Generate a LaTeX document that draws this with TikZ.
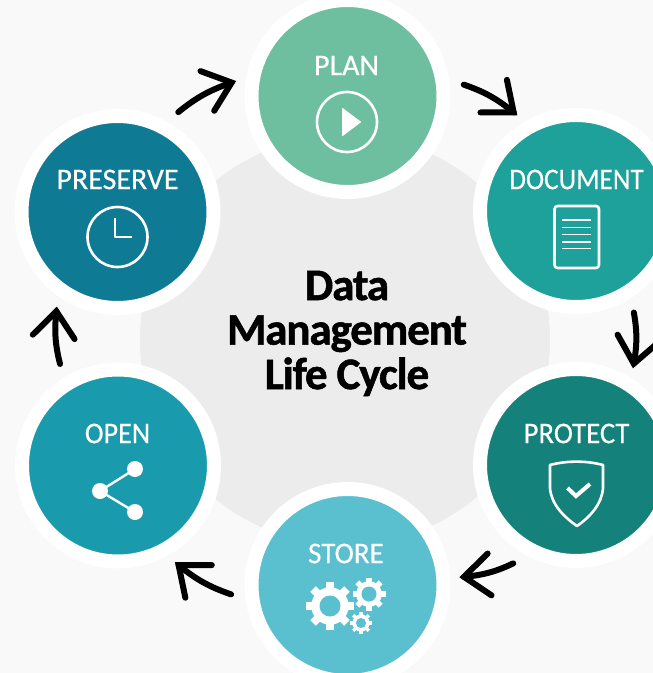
\documentclass[tikz,border=0pt]{standalone}
\usepackage{fontspec}
\usepackage{xcolor}
\usetikzlibrary{arrows.meta,calc}
\setmainfont{Carlito}
\newfontfamily\stagefont[FakeBold=0.35]{Carlito}
\newfontfamily\titlefont[FakeBold=1.2,LetterSpace=-2.5]{Carlito Bold}
\definecolor{pagegrey}{HTML}{F9F9F9}
\definecolor{coregrey}{HTML}{ECECEC}
\definecolor{plangreen}{HTML}{6DBFA0}
\definecolor{docteal}{HTML}{1DA19A}
\definecolor{protectteal}{HTML}{14827A}
\definecolor{storeblue}{HTML}{5ABFCE}
\definecolor{openblue}{HTML}{1A9BAD}
\definecolor{preserveblue}{HTML}{0E7A94}
\pgfdeclarearrow{
    name=OpenBarb,
    setup code={
        \pgfarrowssettipend{0pt}
        \pgfarrowssetbackend{-26pt}
        \pgfarrowssetlineend{-4.3pt}
        \pgfarrowssetvisualbackend{-4.3pt}
    },
    drawing code={
        \pgfsetmiterjoin
        \pgfsetroundcap
        \pgfpathmoveto{\pgfqpoint{-30pt}{21pt}}
        \pgfpathlineto{\pgfqpoint{-4.3pt}{0pt}}
        \pgfpathlineto{\pgfqpoint{-30pt}{-21pt}}
        \pgfusepathqstroke
    }
}
\tikzset{
    stagedisc/.style={circle, draw=white, line width=14pt, minimum size=192pt, inner sep=0pt, outer sep=19pt, fill=#1},
    stagelabel/.style={text=white, inner sep=0pt, xscale=#1, font=\stagefont\fontsize{30}{32}\selectfont},
    stagelabel/.default=1,
    flowarrow/.style={line width=6pt, line cap=round, shorten <=2pt, shorten >=-2.5pt, -{OpenBarb}},
    iconline/.style={draw=white, line width=2.6pt, line join=round},
}
\newcommand{\gearicon}[5]{
    \foreach \tooth in {0,45,...,315} {
        \draw[white, line width=#5] ($(#1,#2)+(\tooth:#3*0.6)$) -- ($(#1,#2)+(\tooth:#3)$);
    }
    \fill[white] (#1,#2) circle[radius=#3*0.78];
    \fill[storeblue] (#1,#2) circle[radius=#4];
}
\begin{document}
\begin{tikzpicture}[x=1pt, y=-1pt]
    \useasboundingbox (0,0) rectangle (653,673);
    \fill[pagegrey] (0,0) rectangle (653,673);
    \node[circle, fill=coregrey, minimum size=410pt, inner sep=0pt] (core) at (345,340) {};

    \node[stagedisc=plangreen] (plan) at (347.5,96) {};
    \node[stagedisc=docteal] (document) at (576,211) {};
    \node[stagedisc=protectteal] (protect) at (576,465) {};
    \node[stagedisc=storeblue] (store) at (347.5,585) {};
    \node[stagedisc=openblue] (open) at (118,465.5) {};
    \node[stagedisc=preserveblue] (preserve) at (117.5,212) {};

    \node[stagelabel] (planlabel) at (346.5,65.5) {PLAN};
    \node[stagelabel=0.91] (documentlabel) at (576.5,179.5) {DOCUMENT};
    \node[stagelabel=0.96] (protectlabel) at (576.5,433.5) {PROTECT};
    \node[stagelabel=0.97] (storelabel) at (346,553.5) {STORE};
    \node[stagelabel=0.94] (openlabel) at (117.5,433.5) {OPEN};
    \node[stagelabel] (preservelabel) at (117.5,179.5) {PRESERVE};

    \node[align=center, inner sep=0pt, font=\titlefont\fontsize{45}{44.5}\selectfont] (title) at (347,333.5) {Data\\Management\\Life Cycle};

    \draw[flowarrow] (plan.6) to[bend left=10] (document.122);
    \draw[flowarrow] (document.-60) to[bend left=10] (protect.60);
    \draw[flowarrow] (protect.238) to[bend left=10] (store.4);
    \draw[flowarrow] (store.185) to[bend left=10] (open.-59);
    \draw[flowarrow] (open.120) to[bend left=10] (preserve.-122);
    \draw[flowarrow] (preserve.59) to[bend left=10] (plan.173);

    \draw[iconline] (347,122) circle[radius=30];
    \fill[white, draw=white, line width=1pt, line join=round] (342.5,108.5) -- (342.5,135.5) -- (360.5,122) -- cycle;

    \draw[iconline, rounded corners=3pt] (554.5,206) rectangle (599,268);
    \foreach \rowy in {220,227.5,234.5,242,248.5} {
        \draw[white, line width=1.2pt] (562,\rowy) -- (591,\rowy);
    }

    \draw[iconline] (550,465) .. controls (567,460.5) and (586,460.5) .. (603,465) -- (603,488) .. controls (602,504) and (590,517) .. (577,526) .. controls (564,517) and (551,504) .. (550,488) -- cycle;
    \draw[white, line width=4pt] (567.5,488) -- (576,496) -- (590,484);

    \gearicon{330}{606}{24}{10.5}{8pt}
    \gearicon{369}{594}{16.5}{7.5}{5.5pt}
    \gearicon{361}{623}{11}{5}{3.5pt}

    \draw[white, line width=2.4pt] (135,469) -- (100,491) -- (135,512);
    \fill[white] (135,469) circle[radius=8];
    \fill[white] (100,491) circle[radius=8];
    \fill[white] (135,512) circle[radius=8];

    \draw[iconline] (117.5,237) circle[radius=30];
    \draw[iconline] (115,218) -- (115,237) -- (132,237);
\end{tikzpicture}
\end{document}
